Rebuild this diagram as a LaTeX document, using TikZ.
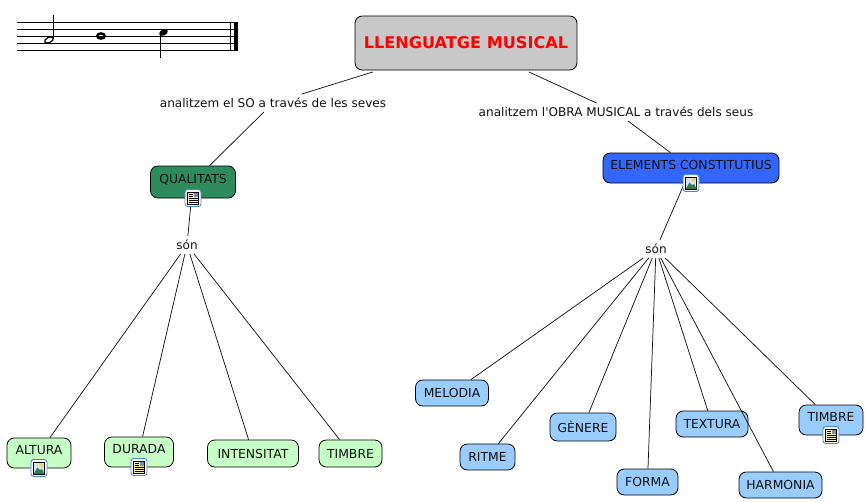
\documentclass[tikz,border=0pt]{standalone}
\usepackage{fontspec}
\setmainfont{DejaVu Sans}
\usetikzlibrary{positioning,calc}
\definecolor{Ink}{HTML}{111111}
\definecolor{TitleGrey}{HTML}{C8C8C8}
\definecolor{QualGreen}{HTML}{2E8B5E}
\definecolor{ElemBlue}{HTML}{3366FF}
\definecolor{LeafGreen}{HTML}{C6FFC6}
\definecolor{LeafBlue}{HTML}{99CCFF}
\definecolor{IconEdge}{HTML}{4A86D8}
\definecolor{IconSky}{HTML}{A9C8EC}
\definecolor{IconHill}{HTML}{2E7D4F}
\definecolor{IconSun}{HTML}{F2D94E}
\definecolor{IconPage}{HTML}{F6F0A8}
\tikzset{
  concept/.style={draw=black,line width=0.6pt,rounded corners=5.5pt,align=center,inner sep=0pt,
    font=\fontsize{9.3pt}{10pt}\selectfont,text=Ink},
  withicon/.style={text height=7pt,text depth=4.7pt},
  phrase/.style={font=\fontsize{9.05pt}{10pt}\selectfont,text=Ink,inner sep=2pt,outer sep=1pt},
  link/.style={draw=Ink,line width=0.55pt},
  staffline/.style={draw=black,line width=0.6pt},
  pics/imgicon/.style={code={
    \draw[IconEdge,fill=white,line width=0.7pt,rounded corners=2pt] (-8,-8.5) rectangle (8,8.5);
    \fill[IconSky!50!white] (-5.5,-6) rectangle (5.5,6);
    \fill[IconSun] (2.5,-3) circle (2);
    \fill[IconHill] (-5.5,6) -- (-1.5,-0.5) -- (1,2) -- (3,1) -- (5.5,6) -- cycle;
    \draw[black,line width=0.5pt] (-5.5,-6) rectangle (5.5,6);
  }},
  pics/docicon/.style={code={
    \draw[IconEdge,fill=white,line width=0.7pt,rounded corners=2pt] (-8,-8.5) rectangle (8,8.5);
    \draw[black,fill=IconPage,line width=0.5pt] (-5.5,-6) rectangle (5.5,6);
    \fill[IconSky!70!black] (0.5,-5.5) rectangle (5,-1.5);
    \foreach \ly in {-4,-2}
      \draw[black,line width=0.5pt] (-4.5,\ly) -- (-0.5,\ly);
    \foreach \ly in {0.3,2.3,4.3}
      \draw[black,line width=0.5pt] (-4.5,\ly) -- (4.5,\ly);
  }}
}
\begin{document}
\begin{tikzpicture}[x=0.75pt,y=-0.75pt]
  \useasboundingbox (0,0) rectangle (865,501);
  % staff
  \foreach \sy in {22.7,29.5,36.3,43.2,50.2}
    \draw[staffline] (17,\sy) -- (234,\sy);
  \draw[staffline] (230,22.7) -- (230,50.2);
  \fill[black] (234,22) rectangle (238,50.8);
  \draw[black,line width=0.9pt,fill=white,rotate around={25:(49,40)}] (49,40) ellipse (4.6 and 2.6);
  \draw[black,line width=0.7pt] (53.5,15) -- (53.5,39);
  \draw[black,line width=1.8pt] (101,36) ellipse (3.8 and 2.6);
  \fill[black,rotate around={25:(163.5,32.5)}] (163.5,32.5) ellipse (4.6 and 3);
  \draw[black,line width=0.7pt] (160,33) -- (160,58);
  % concepts
  \node[concept,fill=TitleGrey,minimum width=166.5pt,minimum height=40.5pt,outer sep=1.5pt,
        font=\fontsize{12.1pt}{14pt}\bfseries\selectfont,text=red] (lleng) at (466,43) {LLENGUATGE MUSICAL};
  \node[phrase] (analso) at (273,103) {analitzem el SO a través de les seves};
  \node[phrase] (analobra) at (616,112) {analitzem l\textquotesingle OBRA MUSICAL a través dels seus};
  \node[concept,withicon,fill=QualGreen,minimum width=63.75pt,minimum height=24pt] (qualitats) at (193,182) {QUALITATS};
  \node[concept,withicon,fill=ElemBlue,minimum width=132pt,minimum height=22.5pt] (elements) at (691,168) {ELEMENTS CONSTITUTIUS};
  \node[phrase] (son1) at (187,245) {són};
  \node[phrase] (son2) at (656,249) {són};
  \node[concept,withicon,fill=LeafGreen,minimum width=48pt,minimum height=22.5pt] (altura) at (39,453) {ALTURA};
  \node[concept,withicon,fill=LeafGreen,minimum width=51.75pt,minimum height=22.5pt] (durada) at (139,452) {DURADA};
  \node[concept,fill=LeafGreen,minimum width=68.25pt,minimum height=20.25pt] (intensitat) at (253,453.5) {INTENSITAT};
  \node[concept,fill=LeafGreen,minimum width=47.25pt,minimum height=20.25pt] (timbre1) at (350.5,453.5) {TIMBRE};
  \node[concept,fill=LeafBlue,minimum width=54.75pt,minimum height=19.5pt] (melodia) at (452,393) {MELODIA};
  \node[concept,fill=LeafBlue,minimum width=41.25pt,minimum height=19.5pt] (ritme) at (487.5,457) {RITME};
  \node[concept,fill=LeafBlue,minimum width=49.5pt,minimum height=21pt] (genere) at (583,427) {GÈNERE};
  \node[concept,fill=LeafBlue,minimum width=45.75pt,minimum height=19.5pt] (forma) at (647.5,482) {FORMA};
  \node[concept,fill=LeafBlue,minimum width=54pt,minimum height=19.5pt] (textura) at (712,424) {TEXTURA};
  \node[concept,fill=LeafBlue,minimum width=62.25pt,minimum height=19.5pt] (harmonia) at (780.5,485) {HARMONIA};
  \node[concept,withicon,fill=LeafBlue,minimum width=48pt,minimum height=22.5pt] (timbre2) at (831,420) {TIMBRE};
  % links
  \draw[link] (lleng) -- (analso);
  \draw[link] (analso) -- (qualitats);
  \draw[link] (lleng) -- (analobra);
  \draw[link] (analobra) -- (elements);
  \draw[link] (qualitats) -- (son1);
  \draw[link] (elements) -- (son2);
  \foreach \leaf in {altura,durada,intensitat,timbre1}
    \draw[link] (son1) -- (\leaf);
  \foreach \leaf in {melodia,ritme,genere,forma,textura,harmonia,timbre2}
    \draw[link] (son2) -- (\leaf);
  % icons
  \pic at (193,198) {docicon};
  \pic at (691,183) {imgicon};
  \pic at (39,468) {imgicon};
  \pic at (139,467) {docicon};
  \pic at (831,435) {docicon};
\end{tikzpicture}
\end{document}
